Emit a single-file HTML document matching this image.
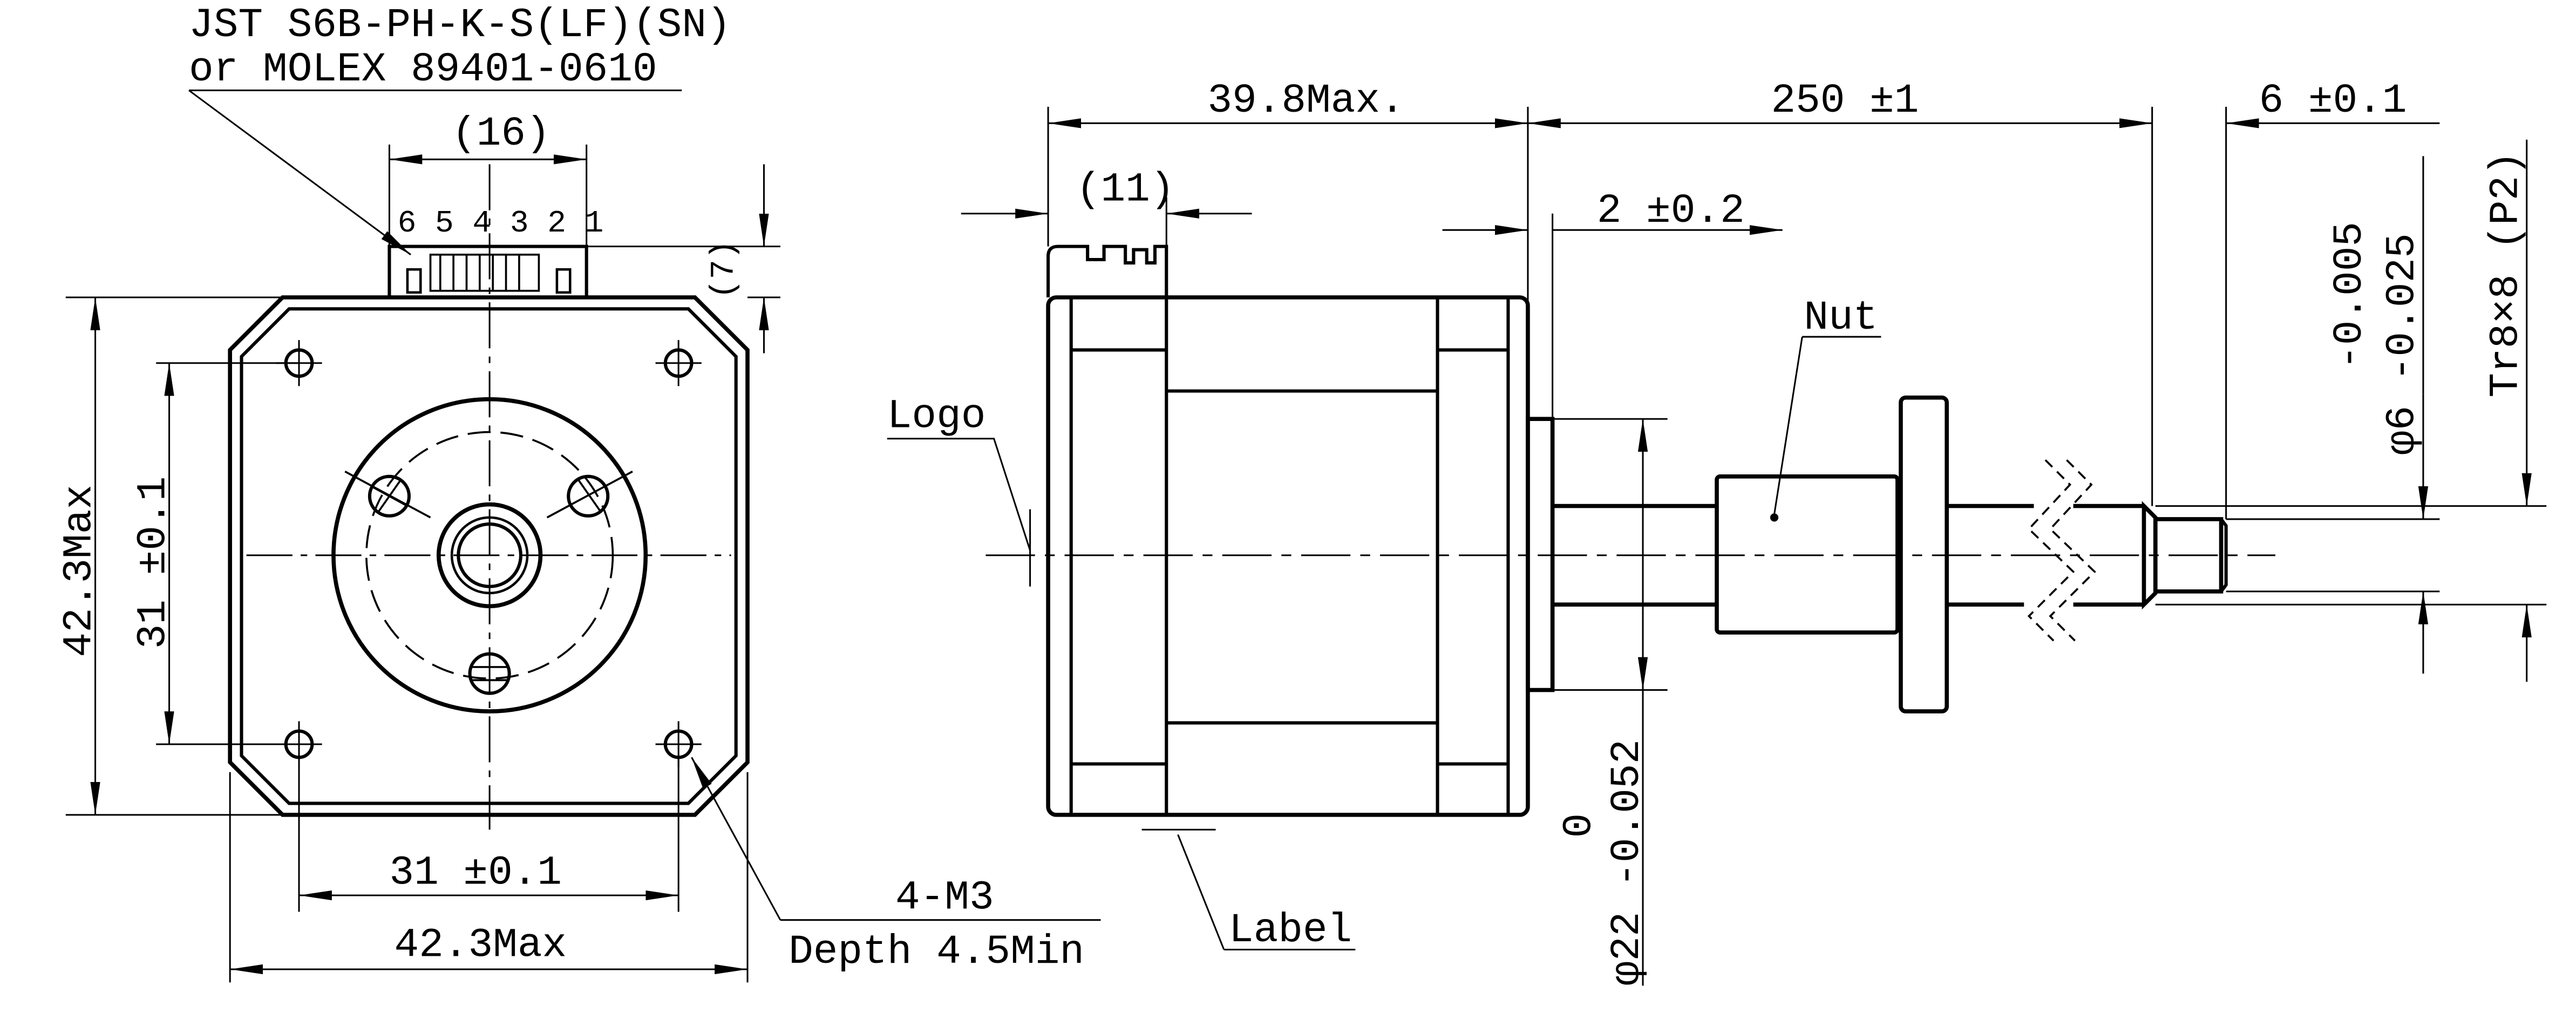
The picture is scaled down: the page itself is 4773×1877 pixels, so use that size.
<!DOCTYPE html>
<html><head><meta charset="utf-8"><style>
html,body{margin:0;padding:0;background:#fff;}
svg{display:block;}
text{font-family:"Liberation Mono","DejaVu Sans Mono",monospace;font-size:25px;fill:#000;}
</style></head><body>
<svg width="4773" height="1877" viewBox="0 0 1568 616.6" xmlns="http://www.w3.org/2000/svg">
<defs>
<marker id="a" viewBox="0 0 20 6" refX="20" refY="3" markerWidth="20" markerHeight="6" markerUnits="userSpaceOnUse" orient="auto-start-reverse"><path d="M0,0 L20,3 L0,6 Z" fill="#000"/></marker>
</defs>
<g fill="none" stroke="#000">
<polygon points="172,181 423,181 455,213 455,464 423,496 172,496 140,464 140,213" stroke-width="2.5"/>
<polygon points="176,188 419,188 448,217 448,460 419,489 176,489 147,460 147,217" stroke-width="2"/>
<rect x="237" y="150" width="120" height="31" stroke-width="2"/>
<rect x="262" y="155" width="66" height="22" stroke-width="1.2"/>
<g stroke-width="1.2"><line x1="268" y1="155" x2="268" y2="177"/><line x1="276" y1="155" x2="276" y2="177"/><line x1="284" y1="155" x2="284" y2="177"/><line x1="292" y1="155" x2="292" y2="177"/><line x1="300" y1="155" x2="300" y2="177"/><line x1="308" y1="155" x2="308" y2="177"/><line x1="316" y1="155" x2="316" y2="177"/></g>
<rect x="248" y="164" width="8" height="14" stroke-width="1.5"/>
<rect x="339" y="164" width="8" height="14" stroke-width="1.5"/>
<g stroke-width="2"><circle cx="182" cy="221" r="8"/><circle cx="413" cy="221" r="8"/><circle cx="182" cy="453" r="8"/><circle cx="413" cy="453" r="8"/></g>
<g stroke-width="1"><path d="M168 221H196M182 207V235M399 221H427M413 207V235M168 453H196M182 439V467M399 453H427M413 439V467"/></g>
<circle cx="298" cy="338" r="95" stroke-width="2.5"/>
<circle cx="298" cy="338" r="75" stroke-width="1.2" stroke-dasharray="14 6"/>
<circle cx="298" cy="338" r="31" stroke-width="2.5"/>
<circle cx="298" cy="338" r="23" stroke-width="1.5"/>
<circle cx="298" cy="338" r="19" stroke-width="2"/>
<g stroke-width="2"><circle cx="237" cy="302" r="12"/><circle cx="358" cy="302" r="12"/><circle cx="298" cy="410" r="12"/></g>
<g stroke-width="1.2"><path d="M210 287L262 315M230 312L244 292M385 287L333 315M352 292L366 312M286 406L310 406M286 414L310 414M226 296L248 308"/></g>
<path d="M150 338H445M298 100V505" stroke-width="1" stroke-dasharray="28 5 4 5"/>
<g stroke-width="1">
<path d="M40 181H172M40 496H172M95 221H182M95 453H182"/>
<line x1="58" y1="181" x2="58" y2="496" marker-start="url(#a)" marker-end="url(#a)"/>
<line x1="103" y1="221" x2="103" y2="453" marker-start="url(#a)" marker-end="url(#a)"/>
<path d="M182 460V555M413 460V555M140 470V598M455 470V598"/>
<line x1="182" y1="545" x2="413" y2="545" marker-start="url(#a)" marker-end="url(#a)"/>
<line x1="140" y1="590" x2="455" y2="590" marker-start="url(#a)" marker-end="url(#a)"/>
<path d="M237 88V150M357 88V150"/>
<line x1="237" y1="97" x2="357" y2="97" marker-start="url(#a)" marker-end="url(#a)"/>
<path d="M357 150H475M455 181H475"/>
<line x1="465" y1="100" x2="465" y2="150" marker-end="url(#a)"/>
<line x1="465" y1="215" x2="465" y2="181" marker-end="url(#a)"/>
<path d="M115 55H415"/>
<line x1="115" y1="55" x2="250" y2="155" marker-end="url(#a)"/>
<line x1="475" y1="560" x2="421" y2="461" marker-end="url(#a)"/>
<path d="M475 560H670"/>
</g>
<rect x="638" y="181" width="292" height="315" rx="5" stroke-width="2.5"/>
<path d="M652 181V496M710 181V496M875 181V496M918 181V496M710 238H875M710 440H875M652 213H710M875 213H918M652 465H710M875 465H918" stroke-width="2"/>
<path d="M638 181V156Q638 150 644 150H662V158H672V150H685V160H690V152H698V160H703V150H710V181" stroke-width="2"/>
<rect x="930" y="255" width="15" height="165" stroke-width="2.5"/>
<path d="M945 308H1045M945 368H1045" stroke-width="2.5"/>
<rect x="1045" y="290" width="110" height="95" rx="2" stroke-width="2.5"/>
<rect x="1157" y="242" width="28" height="191" rx="3" stroke-width="2.5"/>
<path d="M1185 308H1238M1185 368H1232M1262 308H1305M1262 368H1305M1305 308L1312 315V361L1305 368Z" stroke-width="2.5"/>
<rect x="1312" y="316" width="40" height="44" stroke-width="2.5"/>
<path d="M1352 316L1355 320V356L1352 360" stroke-width="2"/>
<g stroke-width="1.2" stroke-dasharray="6 4"><path d="M1245 280L1260 295L1235 322L1262 348L1235 375L1250 390"/><path d="M1258 280L1273 295L1248 322L1275 348L1248 375L1263 390"/></g>
<path d="M600 338H1385" stroke-width="1" stroke-dasharray="30 6 6 6"/>
<g stroke-width="1">
<path d="M638 65V150M930 65V255M945 130V255M1310 65V308M1355 65V316M710 120V150"/>
<line x1="638" y1="75" x2="930" y2="75" marker-start="url(#a)" marker-end="url(#a)"/>
<line x1="930" y1="75" x2="1310" y2="75" marker-start="url(#a)" marker-end="url(#a)"/>
<line x1="1355" y1="75" x2="1485" y2="75" marker-start="url(#a)"/>
<line x1="585" y1="130" x2="638" y2="130" marker-end="url(#a)"/>
<line x1="762" y1="130" x2="710" y2="130" marker-end="url(#a)"/>
<line x1="878" y1="140" x2="930" y2="140" marker-end="url(#a)"/>
<line x1="1085" y1="140" x2="945" y2="140" marker-start="url(#a)"/>
<path d="M945 255H1015M945 420H1015"/>
<line x1="1000" y1="255" x2="1000" y2="420" marker-start="url(#a)" marker-end="url(#a)"/>
<line x1="1000" y1="420" x2="1000" y2="600"/>
<path d="M1355 316H1485M1355 360H1485M1312 308H1550M1312 368H1550"/>
<line x1="1475" y1="240" x2="1475" y2="316" marker-end="url(#a)"/>
<line x1="1475" y1="410" x2="1475" y2="360" marker-end="url(#a)"/>
<line x1="1475" y1="95" x2="1475" y2="240"/>
<line x1="1538" y1="85" x2="1538" y2="308" marker-end="url(#a)"/>
<line x1="1538" y1="415" x2="1538" y2="368" marker-end="url(#a)"/>
<path d="M540 267H605L627 335M627 310V357"/>
<path d="M745 578H825M745 578L717 508M695 505H740"/>
<path d="M1097 205H1145M1097 205L1080 313"/>
</g>
<circle cx="1080" cy="315" r="2" fill="#000"/>
</g>
<text x="115" y="22">JST  S6B-PH-K-S(LF)(SN)</text>
<text x="115" y="49">or MOLEX  89401-0610</text>
<text x="275" y="88">(16)</text>
<text x="242" y="141" style="font-size:19px">6 5 4 3 2 1</text>
<text transform="translate(446,182) rotate(-90)" style="font-size:20px">(7)</text>
<text transform="translate(55,400) rotate(-90)">42.3Max</text>
<text transform="translate(100,395) rotate(-90)">31 ±0.1</text>
<text x="237" y="538">31 ±0.1</text>
<text x="240" y="582">42.3Max</text>
<text x="545" y="553">4-M3</text>
<text x="480" y="586">Depth 4.5Min</text>
<text x="735" y="68">39.8Max.</text>
<text x="1078" y="68">250 ±1</text>
<text x="1375" y="68">6 ±0.1</text>
<text x="655" y="122">(11)</text>
<text x="972" y="135">2 ±0.2</text>
<text x="540" y="260">Logo</text>
<text x="1098" y="200">Nut</text>
<text x="748" y="573">Label</text>
<text transform="translate(968,510) rotate(-90)">0</text>
<text transform="translate(997,600) rotate(-90)">φ22 -0.052</text>
<text transform="translate(1437,225) rotate(-90)">-0.005</text>
<text transform="translate(1469,277) rotate(-90)">φ6 -0.025</text>
<text transform="translate(1532,242) rotate(-90)">Tr8×8 (P2)</text>
</svg>
</body></html>
